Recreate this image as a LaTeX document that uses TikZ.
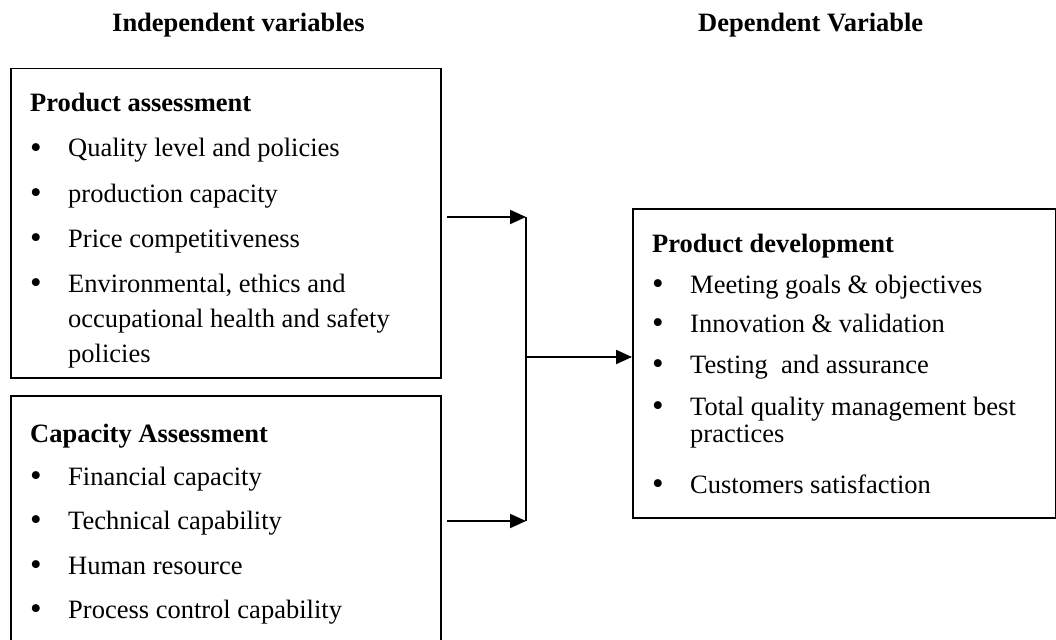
\documentclass[tikz,border=0pt]{standalone}
\usepackage{fontspec}
\setmainfont{Liberation Serif}
\usetikzlibrary{arrows.meta}

\begin{document}
\begin{tikzpicture}[x=1pt, y=-1pt,
  box/.style={draw, line width=1.5pt, anchor=north west, inner sep=0pt},
  txt/.style={anchor=base west, inner sep=0pt, font=\fontsize{26.5}{32}\selectfont},
  head/.style={anchor=base west, inner sep=0pt, font=\fontsize{26.5}{32}\selectfont\bfseries},
  dot/.style={anchor=base, inner sep=0pt, font=\fontsize{33}{36}\selectfont},
  arr/.style={line width=2pt, -{Triangle[length=16pt, width=14pt]}}]
\clip (0,0) rectangle (1056,639);

% column headings
\node[head] (hindep) at (112, 32) {Independent variables};
\node[head] (hdep) at (698, 32) {Dependent Variable};

% frames
\node[box, minimum width=430, minimum height=309] (prod) at (10, 68) {};
\node[box, minimum width=430, minimum height=300] (cap) at (10, 395) {};
\node[box, minimum width=423, minimum height=309] (dev) at (632, 208) {};

% Product assessment
\node[head] (prodT) at (30, 112) {Product assessment};
\node[dot] (pb1) at (36, 158) {\textbullet};
\node[txt] (p1) at (68, 157) {Quality level and policies};
\node[dot] (pb2) at (36, 203) {\textbullet};
\node[txt] (p2) at (68, 202) {production capacity};
\node[dot] (pb3) at (36, 248) {\textbullet};
\node[txt] (p3) at (68, 247) {Price competitiveness};
\node[dot] (pb4) at (36, 293) {\textbullet};
\node[txt] (p4) at (68, 292) {Environmental, ethics and};
\node[txt] (p4b) at (68, 327) {occupational health and safety};
\node[txt] (p4c) at (68, 362) {policies};

% Capacity Assessment
\node[head] (capT) at (30, 442) {Capacity Assessment};
\node[dot] (cb1) at (36, 486) {\textbullet};
\node[txt] (c1) at (68, 485) {Financial capacity};
\node[dot] (cb2) at (36, 530) {\textbullet};
\node[txt] (c2) at (68, 529) {Technical capability};
\node[dot] (cb3) at (36, 575) {\textbullet};
\node[txt] (c3) at (68, 574) {Human resource};
\node[dot] (cb4) at (36, 619) {\textbullet};
\node[txt] (c4) at (68, 618) {Process control capability};

% Product development
\node[head] (devT) at (652, 252) {Product development};
\node[dot] (db1) at (658, 294) {\textbullet};
\node[txt] (d1) at (690, 293) {Meeting goals \& objectives};
\node[dot] (db2) at (658, 333) {\textbullet};
\node[txt] (d2) at (690, 332) {Innovation \& validation};
\node[dot] (db3) at (658, 374) {\textbullet};
\node[txt] (d3) at (690, 373) {Testing \ and assurance};
\node[dot] (db4) at (658, 416) {\textbullet};
\node[txt] (d4) at (690, 415) {Total quality management best};
\node[txt] (d4b) at (690, 442) {practices};
\node[dot] (db5) at (658, 494) {\textbullet};
\node[txt] (d5) at (690, 493) {Customers satisfaction};

% joining line
\coordinate (jtop) at (526, 217);
\coordinate (jmid) at (526, 357);
\coordinate (jbot) at (526, 521);

\draw[line width=1.5pt] (jtop) -- (jbot);
\draw[arr] ([xshift=5]prod.east |- jtop) -- (jtop);
\draw[arr] ([xshift=5]cap.east |- jbot) -- (jbot);
\draw[arr] (jmid) -- (dev.west |- jmid);

\end{tikzpicture}
\end{document}
